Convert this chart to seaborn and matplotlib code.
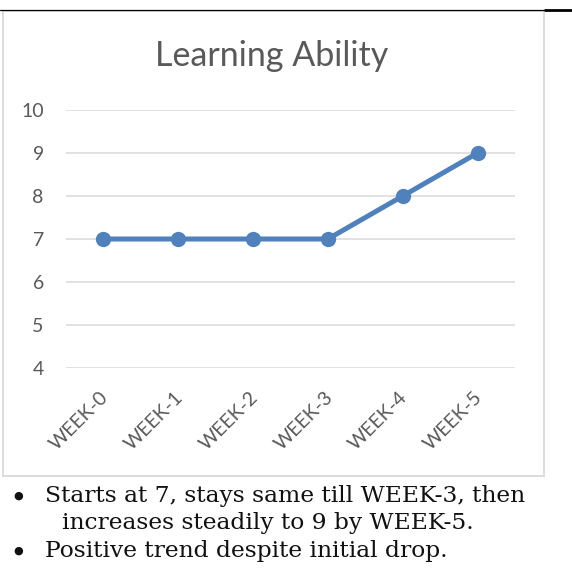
import matplotlib
matplotlib.use('Agg')
import matplotlib.pyplot as plt
import matplotlib.transforms as mtransforms
from matplotlib.patches import Rectangle
from matplotlib.lines import Line2D
import seaborn as sns

# data
weeks = ['WEEK-0', 'WEEK-1', 'WEEK-2', 'WEEK-3', 'WEEK-4', 'WEEK-5']
scores = [7, 7, 7, 7, 8, 9]
y_ticks = [4, 5, 6, 7, 8, 9, 10]
title = 'Learning Ability'
notes = ['Starts at 7, stays same till WEEK-3, then',
         'increases steadily to 9 by WEEK-5.',
         'Positive trend despite initial drop.']

W, H = 572, 569
sns.set_style('white')
plt.rcParams['font.family'] = ['Lato', 'DejaVu Sans']

fig = plt.figure(figsize=(W / 100, H / 100), dpi=100)


def fx(x):
    return x / W


def fy(y):
    return 1 - y / H


# chart frame and the rule above it
fig.add_artist(Rectangle((fx(3), fy(476)), fx(544) - fx(3), fy(11) - fy(476),
                         transform=fig.transFigure, fill=False,
                         edgecolor='#d9d9d9', linewidth=1.3))
fig.add_artist(Line2D([0, fx(545)], [fy(10), fy(10)], transform=fig.transFigure,
                      color='black', linewidth=0.9))
fig.add_artist(Line2D([fx(545), 1], [fy(10), fy(10)], transform=fig.transFigure,
                      color='black', linewidth=2))

ax = fig.add_axes([fx(66), fy(368), fx(515) - fx(66), fy(110) - fy(368)])
sns.lineplot(x=weeks, y=scores, ax=ax, sort=False, color='#4F81BD',
             linewidth=3.6, marker='o', markersize=11, markeredgewidth=0,
             zorder=3)

ax.set_xlim(-0.5, len(weeks) - 0.5)
ax.set_ylim(4, 10)
ax.set_yticks(y_ticks)
ax.grid(axis='y', color='#d9d9d9', linewidth=1.1)
ax.grid(axis='x', visible=False)
for s in ax.spines.values():
    s.set_visible(False)
ax.tick_params(axis='y', length=0, pad=16, labelsize=14, labelcolor='#595959')
ax.tick_params(axis='x', length=0, pad=15, labelsize=14, labelcolor='#595959')
ax.set_xticks(range(len(weeks)))
ax.set_xticklabels(weeks, rotation=45, ha='right', va='top', rotation_mode='anchor')
shift = mtransforms.ScaledTranslation(-4 / 100, 0, fig.dpi_scale_trans)
for lab in ax.get_xticklabels():
    lab.set_transform(lab.get_transform() + shift)
ax.set_xlabel('')
ax.set_ylabel('')

fig.text(fx(272), fy(66), title, ha='center', va='baseline',
         fontsize=24.5, color='#595959')

# bullet notes
serif = ['DejaVu Serif']
fig.text(fx(45), fy(502), notes[0], ha='left', va='baseline', fontsize=16.8,
         family=serif, color='#111111')
fig.text(fx(62), fy(529), notes[1], ha='left', va='baseline', fontsize=16.8,
         family=serif, color='#111111')
fig.text(fx(45), fy(557), notes[2], ha='left', va='baseline', fontsize=16.8,
         family=serif, color='#111111')
for yb in (502, 557):
    fig.text(fx(18), fy(yb - 6), '\u25cf', ha='center', va='center', fontsize=8,
             family=['DejaVu Sans'], color='#111111')

fig.savefig('out.png', dpi=100)
